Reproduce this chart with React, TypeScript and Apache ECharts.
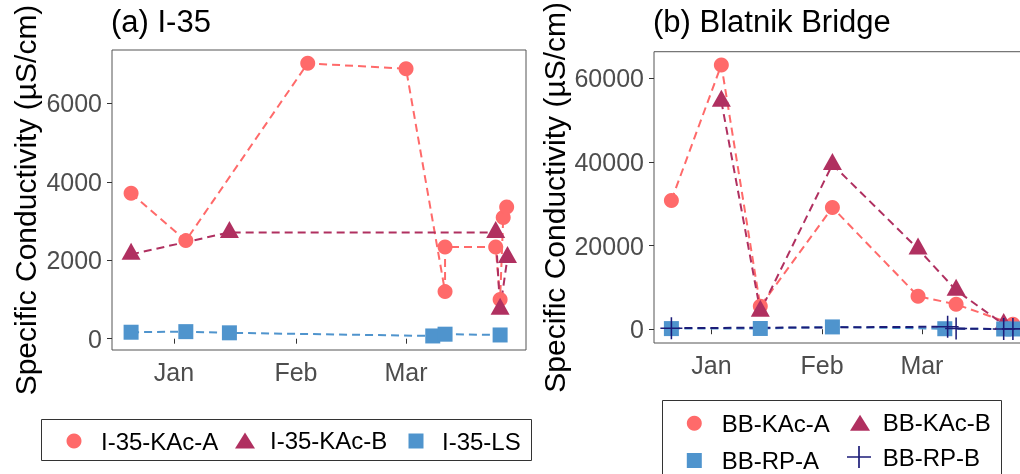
import React, { useEffect, useRef } from "react";
import * as echarts from "echarts";

// ---------- data ----------
const monthLabels = ["Jan", "Feb", "Mar"];
const monthStarts = ["2019-01-01 00:00", "2019-02-01 00:00", "2019-03-01 00:00"];

const i35Ticks = [0, 2000, 4000, 6000];
const bbTicks = [0, 20000, 40000, 60000];

const i35KAcADates = ["2018-12-21 02:00", "2019-01-04 00:00", "2019-02-04 00:00", "2019-03-01 00:00", "2019-03-10 22:00", "2019-03-10 22:00", "2019-03-23 19:00", "2019-03-24 22:00", "2019-03-25 17:00", "2019-03-26 14:00"];
const i35KAcAValues = [3710, 2500, 7020, 6880, 1200, 2340, 2340, 1000, 3090, 3360];

const i35KAcBDates = ["2018-12-21 02:00", "2019-01-15 02:00", "2019-03-23 19:00", "2019-03-24 22:00", "2019-03-26 19:00"];
const i35KAcBValues = [2150, 2710, 2710, 750, 2070];

const i35LSDates = ["2018-12-21 02:00", "2019-01-04 00:00", "2019-01-15 02:00", "2019-03-07 19:00", "2019-03-10 22:00", "2019-03-24 22:00"];
const i35LSValues = [165, 180, 150, 70, 115, 95];

const bbKAcADates = ["2018-12-20 19:00", "2019-01-03 19:00", "2019-01-14 17:00", "2019-02-03 22:00", "2019-02-27 22:00", "2019-03-10 14:00", "2019-03-26 12:00"];
const bbKAcAValues = [30800, 63200, 5500, 29100, 7900, 5950, 1200];

const bbKAcBDates = ["2019-01-03 19:00", "2019-01-14 17:00", "2019-02-03 22:00", "2019-02-27 22:00", "2019-03-10 14:00", "2019-03-23 22:00"];
const bbKAcBValues = [54500, 4300, 39400, 19200, 9300, 1150];

const bbRPADates = ["2018-12-20 19:00", "2019-01-14 17:00", "2019-02-03 22:00", "2019-03-07 10:00", "2019-03-23 22:00", "2019-03-26 12:00"];
const bbRPAValues = [150, 180, 550, 120, 60, 60];

const bbRPBDates = ["2018-12-20 19:00", "2019-03-08 05:00", "2019-03-10 14:00", "2019-03-23 22:00", "2019-03-26 12:00"];
const bbRPBValues = [250, 600, 150, 50, 80];

// ---------- helpers ----------
const ts = (s: string): number => {
  const [d, t = "00:00"] = s.split(" ");
  const [y, m, dd] = d.split("-").map(Number);
  const [hh, mm] = t.split(":").map(Number);
  return new Date(y, m - 1, dd, hh, mm).getTime();
};
const pairs = (dates: string[], vals: number[]) => dates.map((d, i) => [ts(d), vals[i]]);

const PINK = "#FF6A6A";
const MAROON = "#B03060";
const BLUE = "#4F94CD";
const NAVY = "#1C1C78";
const FONT = "Liberation Sans";
const PLUS = "path://M-1,-0.07L1,-0.07L1,0.07L-1,0.07Z M-0.07,-1L0.07,-1L0.07,1L-0.07,1Z";
const SQUARE = "path://M0,0L10,0L10,10L0,10Z";
const TRI = "path://M10,0L20,16L0,16Z";

export default function App() {
  const ref = useRef<HTMLDivElement>(null);
  useEffect(() => {
    if (!ref.current) return;
    const chart = echarts.init(ref.current, undefined, { renderer: "svg" });
    const monthTs = monthStarts.map(ts);
    const fmtMonth = (v: number) => {
      const i = monthTs.indexOf(v);
      return i >= 0 ? monthLabels[i] : "";
    };

    const xAxis = (gi: number, min: string, max: string) => ({
      type: "value",
      gridIndex: gi,
      min: ts(min),
      max: ts(max),
      axisLine: { show: false },
      splitLine: { show: false },
      minorTick: { show: false },
      axisTick: { show: true, length: 5, lineStyle: { color: "#333", width: 1 }, customValues: monthTs },
      axisLabel: { customValues: monthTs, formatter: fmtMonth, color: "#4D4D4D", fontSize: 25, fontFamily: FONT, margin: 9 },
    });
    const yAxis = (gi: number, min: number, max: number, ticks: number[], gap: number) => ({
      type: "value",
      gridIndex: gi,
      min,
      max,
      axisLine: { show: false },
      splitLine: { show: false },
      axisTick: { show: true, length: 5, lineStyle: { color: "#333", width: 1 }, customValues: ticks },
      axisLabel: { customValues: ticks, formatter: (v: number) => String(v), color: "#4D4D4D", fontSize: 25, fontFamily: FONT, margin: 10 },
      name: "Specific Conductivity (µS/cm)",
      nameLocation: "middle",
      nameGap: gap,
      nameTextStyle: { fontSize: 30, color: "#000", fontFamily: FONT, lineHeight: 30 },
    });

    const lineS = (name: string, gi: number, data: any[], color: string) => ({
      type: "line",
      name: name + " line",
      xAxisIndex: gi,
      yAxisIndex: gi,
      data,
      symbol: "none",
      showSymbol: false,
      z: 2,
      silent: true,
      lineStyle: { color, width: 2, type: [8, 5] },
      itemStyle: { color },
    });
    const pointS = (name: string, gi: number, data: any[], color: string, symbol: string, size: any, offset: any = [0, 0]) => ({
      type: "scatter",
      name,
      xAxisIndex: gi,
      yAxisIndex: gi,
      data,
      symbol,
      symbolSize: size,
      symbolOffset: offset,
      z: 3,
      itemStyle: { color, opacity: 1 },
    });

    const d1 = pairs(i35KAcADates, i35KAcAValues);
    const d2 = pairs(i35KAcBDates, i35KAcBValues);
    const d3 = pairs(i35LSDates, i35LSValues);
    const e1 = pairs(bbKAcADates, bbKAcAValues);
    const e2 = pairs(bbKAcBDates, bbKAcBValues);
    const e3 = pairs(bbRPADates, bbRPAValues);
    const e4 = pairs(bbRPBDates, bbRPBValues);

    const leg = (name: string, icon: string, left: number, cy: number, w: number, h: number, textX: number) => ({
      show: true,
      left,
      top: cy - h / 2 - 3,
      padding: 0,
      itemWidth: w,
      itemHeight: h,
      selectedMode: false,
      symbolKeepAspect: false,
      data: [{ name, icon }],
      textStyle: { fontSize: 24, color: "#000", fontFamily: FONT, lineHeight: h, padding: [0, 0, 0, textX - left - w - 5] },
    });

    chart.setOption({
      animation: false,
      textStyle: { fontFamily: FONT },
      title: [
        { text: "(a) I-35", left: 111, top: 6, padding: 0, textStyle: { fontSize: 31, fontWeight: "normal", color: "#000", fontFamily: FONT } },
        { text: "(b) Blatnik Bridge", left: 653, top: 6, padding: 0, textStyle: { fontSize: 31, fontWeight: "normal", color: "#000", fontFamily: FONT } },
      ],
      grid: [
        { left: 112, top: 50, width: 414, height: 300, show: true, borderColor: "#555", borderWidth: 1, backgroundColor: "transparent", containLabel: false },
        { left: 654, top: 47, width: 376, height: 296, show: true, borderColor: "#555", borderWidth: 1, backgroundColor: "transparent", containLabel: false },
      ],
      xAxis: [xAxis(0, "2018-12-16 05:30", "2019-03-31 12:00"), xAxis(1, "2018-12-15 22:00", "2019-03-31 07:00")],
      yAxis: [yAxis(0, -288, 7359, i35Ticks, 72), yAxis(1, -3294, 66353, bbTicks, 85)],
      legend: [
        leg("I-35-KAc-A", "circle", 66.5, 439.5, 15, 15, 101),
        leg("I-35-KAc-B", TRI, 235, 439.5, 20, 16, 270),
        leg("I-35-LS", SQUARE, 408.5, 439.5, 15, 15, 442),
        leg("BB-KAc-A", "circle", 686.8, 421.7, 15, 15, 721.7),
        leg("BB-KAc-B", TRI, 850, 421.7, 20, 16, 882.7),
        leg("BB-RP-A", SQUARE, 686.8, 459, 15, 15, 721.7),
        leg("BB-RP-B", PLUS, 847, 459, 24, 22, 882.7),
      ],
      graphic: [
        { type: "rect", shape: { x: 41.5, y: 419.5, width: 490, height: 41 }, style: { fill: "none", stroke: "#333", lineWidth: 1 }, silent: true },
        { type: "rect", shape: { x: 662.5, y: 400.5, width: 339, height: 100 }, style: { fill: "none", stroke: "#333", lineWidth: 1 }, silent: true },
      ],
      series: [
        lineS("I-35-KAc-A", 0, d1, PINK),
        lineS("I-35-KAc-B", 0, d2, MAROON),
        lineS("I-35-LS", 0, d3, BLUE),
        pointS("I-35-KAc-A", 0, d1, PINK, "circle", 15),
        pointS("I-35-KAc-B", 0, d2, MAROON, "triangle", [19, 17], [0, -3]),
        pointS("I-35-LS", 0, d3, BLUE, "rect", 15),
        lineS("BB-KAc-A", 1, e1, PINK),
        lineS("BB-KAc-B", 1, e2, MAROON),
        lineS("BB-RP-A", 1, e3, BLUE),
        lineS("BB-RP-B", 1, e4, NAVY),
        pointS("BB-KAc-A", 1, e1, PINK, "circle", 15),
        pointS("BB-KAc-B", 1, e2, MAROON, "triangle", [19, 17], [0, -3]),
        pointS("BB-RP-A", 1, e3, BLUE, "rect", 15),
        pointS("BB-RP-B", 1, e4, NAVY, PLUS, 22),
      ],
    });
    return () => chart.dispose();
  }, []);
  return <div ref={ref} style={{ position: "fixed", left: 0, top: 0, width: 1050, height: 474 }} />;
}
